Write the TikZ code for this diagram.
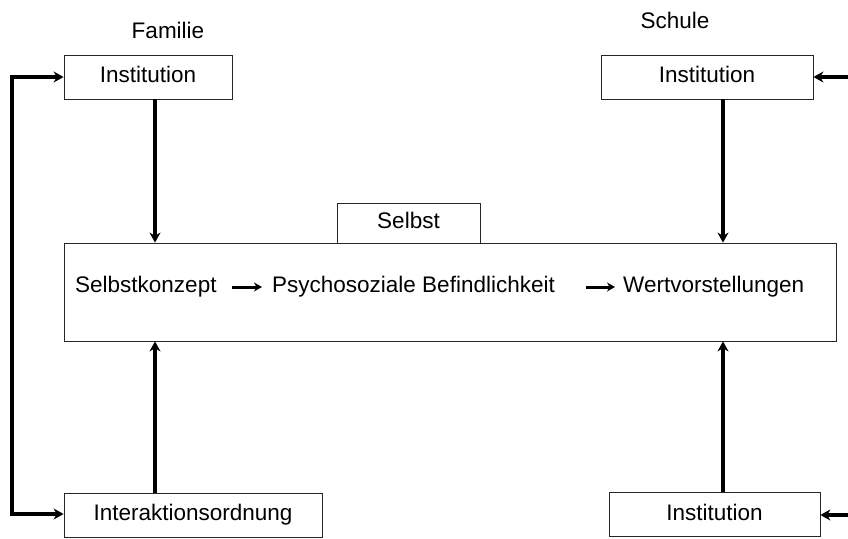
\documentclass[tikz,border=0pt]{standalone}
\usepackage{fontspec}
\setmainfont{Liberation Sans}
\usepackage{tikz}
\usetikzlibrary{shapes,positioning,arrows.meta}
\tikzset{box/.style={rectangle,draw=black!85,line width=0.8pt,inner sep=0pt,text height=16pt,text depth=4.5pt,font=\fontsize{22.5}{27}\selectfont}}
\tikzset{txt/.style={inner sep=0pt,font=\fontsize{22.5}{27}\selectfont}}
\tikzset{fat/.style={line width=3.6pt,-{Stealth[length=10pt,width=11pt]}}}
\tikzset{thin/.style={line width=3pt,-{Stealth[length=8pt,width=9pt]}}}

\begin{document}
\begin{tikzpicture}[x=1pt,y=-1pt]
        \useasboundingbox (0,0) rectangle (848,538);
        \node[box,minimum width=168pt,minimum height=44pt] (inst1)at (148,77) {Institution};
        \node[box,minimum width=212pt,minimum height=44pt] (inst2)at (707,77) {Institution};
        \node[box,minimum width=143pt,minimum height=40pt] (selbst)at (408.5,223) {Selbst};
        \node[box,minimum width=772pt,minimum height=98pt] (big)at (450,292) {};
        \node[box,minimum width=258pt,minimum height=44pt] (inter)at (193,515) {Interaktionsordnung};
        \node[box,minimum width=211pt,minimum height=44pt] (inst3)at (714.5,514.5) {Institution};
        \node[txt] (fam)at (168,30) {Familie};
        \node[txt] (sch)at (675,20) {Schule};
        \node[txt,anchor=west] (skonz)at (75,287) {Selbstkonzept};
        \node[txt,anchor=west] (psych)at (272,287) {Psychosoziale Befindlichkeit};
        \node[txt,anchor=west] (wert)at (623,287) {Wertvorstellungen};
        \coordinate (lx) at (155,0);
        \coordinate (rx) at (723,0);
        \coordinate (lt) at (12,77);
        \coordinate (lb) at (12,514);
        \coordinate (rt) at (848,77);
        \coordinate (rb) at (848,515);

        \draw [fat] (inst1.south -| lx) to (big.north -| lx);
        \draw [fat] (inter.north -| lx) to (big.south -| lx);
        \draw [fat] (inst2.south -| rx) to (big.north -| rx);
        \draw [fat] (inst3.north -| rx) to (big.south -| rx);
        \draw [fat,{Stealth[length=10pt,width=11pt]}-{Stealth[length=10pt,width=11pt]}] (inst1.west |- lt) -- (lt) -- (lb) -- (inter.west |- lb);
        \draw [fat] (rt) to (inst2.east |- rt);
        \draw [fat] (rb) to (inst3.east |- rb);
        \draw [thin,shorten <=15pt,shorten >=10pt] (skonz) to (psych);
        \draw [thin,shorten <=31pt,shorten >=8pt] (psych) to (wert);
    \end{tikzpicture}
\end{document}
